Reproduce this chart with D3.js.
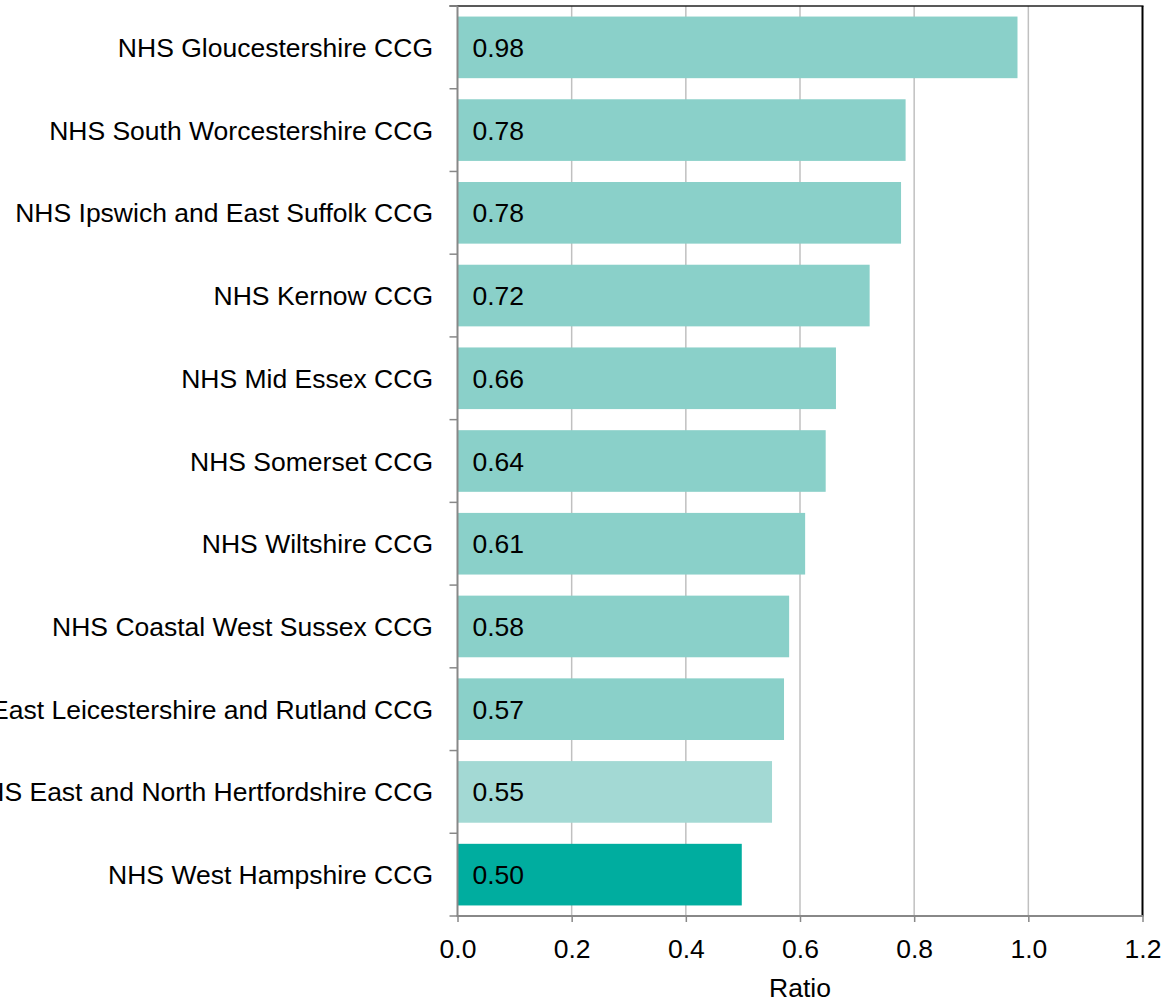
<!DOCTYPE html>
<html><head><meta charset="utf-8">
<script src="https://cdn.jsdelivr.net/npm/d3@7"></script>
<style>body{margin:0;background:#fff}svg{display:block;font-family:"Liberation Sans",Arial,sans-serif}</style>
</head><body>
<script>
const categories = ["NHS Gloucestershire CCG","NHS South Worcestershire CCG","NHS Ipswich and East Suffolk CCG","NHS Kernow CCG","NHS Mid Essex CCG","NHS Somerset CCG","NHS Wiltshire CCG","NHS Coastal West Sussex CCG","NHS East Leicestershire and Rutland CCG","NHS East and North Hertfordshire CCG","NHS West Hampshire CCG"];
const values = [0.981, 0.785, 0.777, 0.722, 0.663, 0.645, 0.609, 0.581, 0.572, 0.551, 0.498];
const labels = ["0.98","0.78","0.78","0.72","0.66","0.64","0.61","0.58","0.57","0.55","0.50"];
const barColors = ["#8ad0c9","#8ad0c9","#8ad0c9","#8ad0c9","#8ad0c9","#8ad0c9","#8ad0c9","#8ad0c9","#8ad0c9","#a3d9d4","#00ad9f"];
const xTicks = [0,0.2,0.4,0.6,0.8,1.0,1.2];
const xTitle = "Ratio";

const W=1165,H=1000,FS=26.5;
const m={left:457.5,right:1142.5,top:6,bottom:916};
const svg=d3.select("body").append("svg").attr("width",W).attr("height",H);
const x=d3.scaleLinear().domain([0,1.2]).range([m.left,m.right]);
const y=d3.scaleBand().domain(categories).range([m.top,m.bottom]).paddingInner(0.255).paddingOuter(0.1275);

svg.append("g").selectAll("line").data(xTicks.filter(t=>t>0&&t<1.2)).join("line")
 .attr("x1",d=>x(d)).attr("x2",d=>x(d)).attr("y1",m.top).attr("y2",m.bottom)
 .attr("stroke","#c0c0c0").attr("stroke-width",1.5);

svg.append("g").selectAll("rect").data(values).join("rect")
 .attr("x",x(0)+0.5).attr("y",(d,i)=>y(categories[i]))
 .attr("width",d=>x(d)-x(0)-0.5).attr("height",y.bandwidth())
 .attr("fill",(d,i)=>barColors[i]);

svg.append("g").selectAll("text").data(labels).join("text")
 .attr("x",x(0)+15).attr("y",(d,i)=>y(categories[i])+y.bandwidth()/2)
 .attr("dy","0.36em").attr("font-size",FS).attr("fill","#000").text(d=>d);

svg.append("line").attr("x1",m.left-8).attr("x2",m.right+1).attr("y1",m.top).attr("y2",m.top).attr("stroke","#222").attr("stroke-width",1.5);
svg.append("line").attr("x1",m.right).attr("x2",m.right).attr("y1",m.top).attr("y2",m.bottom).attr("stroke","#000").attr("stroke-width",2);

const yAxisG=svg.append("g");
yAxisG.append("line").attr("x1",m.left).attr("x2",m.left).attr("y1",m.top).attr("y2",m.bottom).attr("stroke","#888").attr("stroke-width",2);
const yTickPos=d3.range(categories.length+1).map(i=>m.top+i*(m.bottom-m.top)/categories.length);
yAxisG.selectAll("line.t").data(yTickPos).join("line").attr("class","t")
 .attr("x1",m.left-8).attr("x2",m.left).attr("y1",d=>d).attr("y2",d=>d).attr("stroke","#888").attr("stroke-width",1.5);
yAxisG.selectAll("text").data(categories).join("text")
 .attr("x",433).attr("y",d=>y(d)+y.bandwidth()/2).attr("dy","0.36em")
 .attr("text-anchor","end").attr("font-size",FS).attr("fill","#000").text(d=>d);

const xAxis=d3.axisBottom(x).tickValues(xTicks).tickFormat(d3.format(".1f")).tickSize(6).tickPadding(12);
const xg=svg.append("g").attr("transform",`translate(0,${m.bottom})`).call(xAxis);
xg.select(".domain").attr("stroke","#888").attr("stroke-width",2).attr("d",`M${m.left-1},0H${m.right+1}`);
xg.selectAll(".tick line").attr("stroke","#888").attr("stroke-width",1.5);
xg.selectAll(".tick text").attr("font-size",FS).attr("fill","#000").attr("font-family","Liberation Sans, Arial, sans-serif").attr("dy",null).attr("y",42);

svg.append("text").attr("x",800).attr("y",997).attr("text-anchor","middle")
 .attr("font-size",FS).attr("fill","#000").text(xTitle);
</script>
</body></html>
